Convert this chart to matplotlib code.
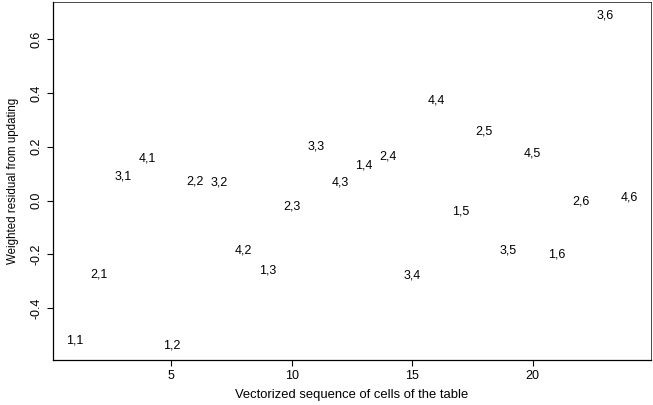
import numpy as np
import matplotlib
matplotlib.use("Agg")
import matplotlib.pyplot as plt

plt.rcParams['font.family'] = ['Liberation Sans', 'DejaVu Sans']

# cell labels (row,column) in vectorized order
labels = ["1,1", "2,1", "3,1", "4,1",
          "1,2", "2,2", "3,2", "4,2",
          "1,3", "2,3", "3,3", "4,3",
          "1,4", "2,4", "3,4", "4,4",
          "1,5", "2,5", "3,5", "4,5",
          "1,6", "2,6", "3,6", "4,6"]
seq = np.arange(1, 25)
resid = [-0.522, -0.274, 0.089, 0.156,
         -0.541, 0.070, 0.067, -0.185,
         -0.259, -0.022, 0.200, 0.067,
         0.130, 0.163, -0.278, 0.374,
         -0.040, 0.256, -0.185, 0.174,
         -0.200, -0.004, 0.690, 0.011]

fig = plt.figure(figsize=(6.53, 4.05), dpi=100)
ax = fig.add_axes([0.081, 0.111, 0.916, 0.884])

for x, y, lab in zip(seq, resid, labels):
    ax.text(x, y, lab, ha='center', va='center', fontsize=9)

ax.set_xlim(0.08, 24.92)
ax.set_ylim(-0.594, 0.739)
ax.set_xticks([5, 10, 15, 20])
ax.set_yticks([-0.4, -0.2, 0.0, 0.2, 0.4, 0.6])
ax.set_yticklabels(["-0.4", "-0.2", "0.0", "0.2", "0.4", "0.6"], rotation=90, va='center')
ax.tick_params(labelsize=9, length=4, width=0.8)
for s in ax.spines.values():
    s.set_linewidth(0.9)
ax.spines['top'].set_linewidth(0.5)
ax.spines['right'].set_linewidth(0.5)

ax.set_xlabel("Vectorized sequence of cells of the table", fontsize=9.4, labelpad=5)
ax.set_ylabel("Weighted residual from updating", fontsize=8.3, labelpad=8)

fig.savefig("out.png", dpi=100)
